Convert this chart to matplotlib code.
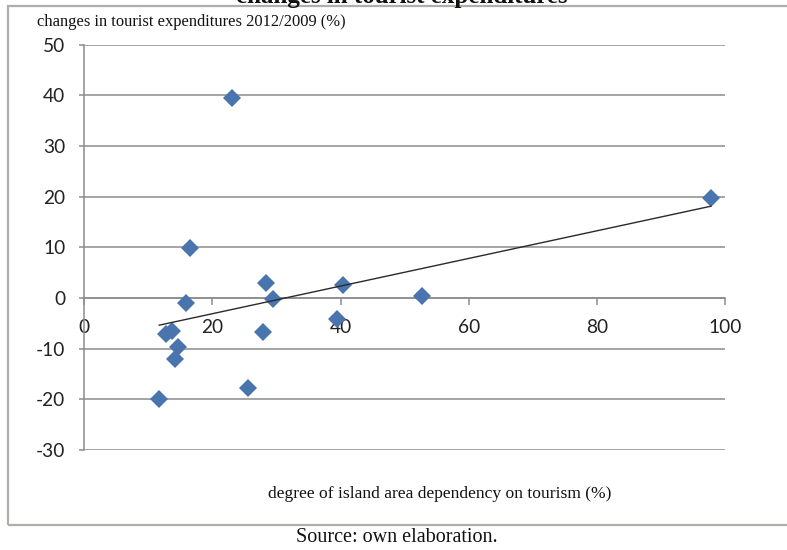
import numpy as np
import matplotlib
matplotlib.use("Agg")
import matplotlib.pyplot as plt
from matplotlib.patches import Rectangle

# Degree of island area dependency on tourism (%) and change in tourist expenditures 2012/2009 (%)
dependency = [23.0, 16.5, 15.9, 28.4, 29.5, 40.4, 39.4, 27.9,
              12.8, 13.7, 14.6, 14.1, 25.5, 11.7, 52.7, 97.8]
expenditure_change = [39.5, 9.8, -1.0, 3.0, -0.1, 2.5, -4.2, -6.8,
                      -7.1, -6.5, -9.6, -12.1, -17.8, -19.9, 0.3, 19.7]

x_ticks = [0, 20, 40, 60, 80, 100]
y_ticks = [-30, -20, -10, 0, 10, 20, 30, 40, 50]

W, H = 787, 550
fig = plt.figure(figsize=(W / 100, H / 100), dpi=100)
fig.patch.set_facecolor("white")

def fx(px):
    return px / W

def fy(py):
    return 1 - py / H

grey = "#8c8c8c"
serif = ["Liberation Serif", "DejaVu Serif"]
sans = ["Lato", "DejaVu Sans"]

# Chart frame (open on the right side)
fig.add_artist(Rectangle((fx(8), fy(525)), 1.2, fy(6) - fy(525),
                         transform=fig.transFigure, fill=False,
                         edgecolor="#b0adab", linewidth=1.6))

# Heading running off the top of the frame
fig.text(fx(402), fy(2.5), "changes in tourist expenditures", ha="center",
         va="baseline", family=serif, fontweight="bold", fontsize=18,
         color="#111111")

ax = fig.add_axes([fx(84.3), fy(450), fx(725) - fx(84.3), fy(44.7) - fy(450)])
ax.set_xlim(0, 100)
ax.set_ylim(-30, 50)
ax.set_facecolor("none")

for side in ("top", "right"):
    ax.spines[side].set_visible(False)
ax.spines["left"].set_color(grey)
ax.spines["left"].set_linewidth(1.1)
ax.spines["bottom"].set_position(("data", 0))
ax.spines["bottom"].set_color(grey)
ax.spines["bottom"].set_linewidth(1.1)

ax.set_xticks(x_ticks)
ax.set_yticks(y_ticks)
ax.set_xticklabels([str(v) for v in x_ticks])
ax.set_yticklabels([str(v) for v in y_ticks])
ax.yaxis.grid(True, color=grey, linewidth=1.1)
ax.set_axisbelow(True)
ax.tick_params(axis="y", direction="out", length=3.6, width=1.1, color=grey,
               pad=10, labelsize=13.8, labelcolor="#222222")
ax.tick_params(axis="x", direction="out", length=5, width=1.1, color=grey,
               pad=10, labelsize=13.8, labelcolor="#222222")
for lab in ax.get_xticklabels() + ax.get_yticklabels():
    lab.set_family(sans)

# Scatter of the islands
ax.plot(dependency, expenditure_change, linestyle="none", marker="D",
        markersize=9, color="#4a74ad", markeredgewidth=0, zorder=3,
        clip_on=False)

# Linear trend line
slope, intercept = np.polyfit(dependency, expenditure_change, 1)
xs = np.array([min(dependency), max(dependency)])
ax.plot(xs, slope * xs + intercept, color="#2a2a2a", linewidth=1.0, zorder=4)

fig.text(fx(37), fy(22), "changes in tourist expenditures 2012/2009 (%)",
         ha="left", va="center", family=serif, fontsize=11.9, color="#111111")
fig.text(fx(440), fy(494), "degree of island area dependency on tourism (%)",
         ha="center", va="center", family=serif, fontsize=12.6, color="#111111")
fig.text(fx(397), fy(537), "Source: own elaboration.", ha="center",
         va="center", family=serif, fontsize=14.5, color="#111111")

fig.savefig("out.png", dpi=100, facecolor="white")
